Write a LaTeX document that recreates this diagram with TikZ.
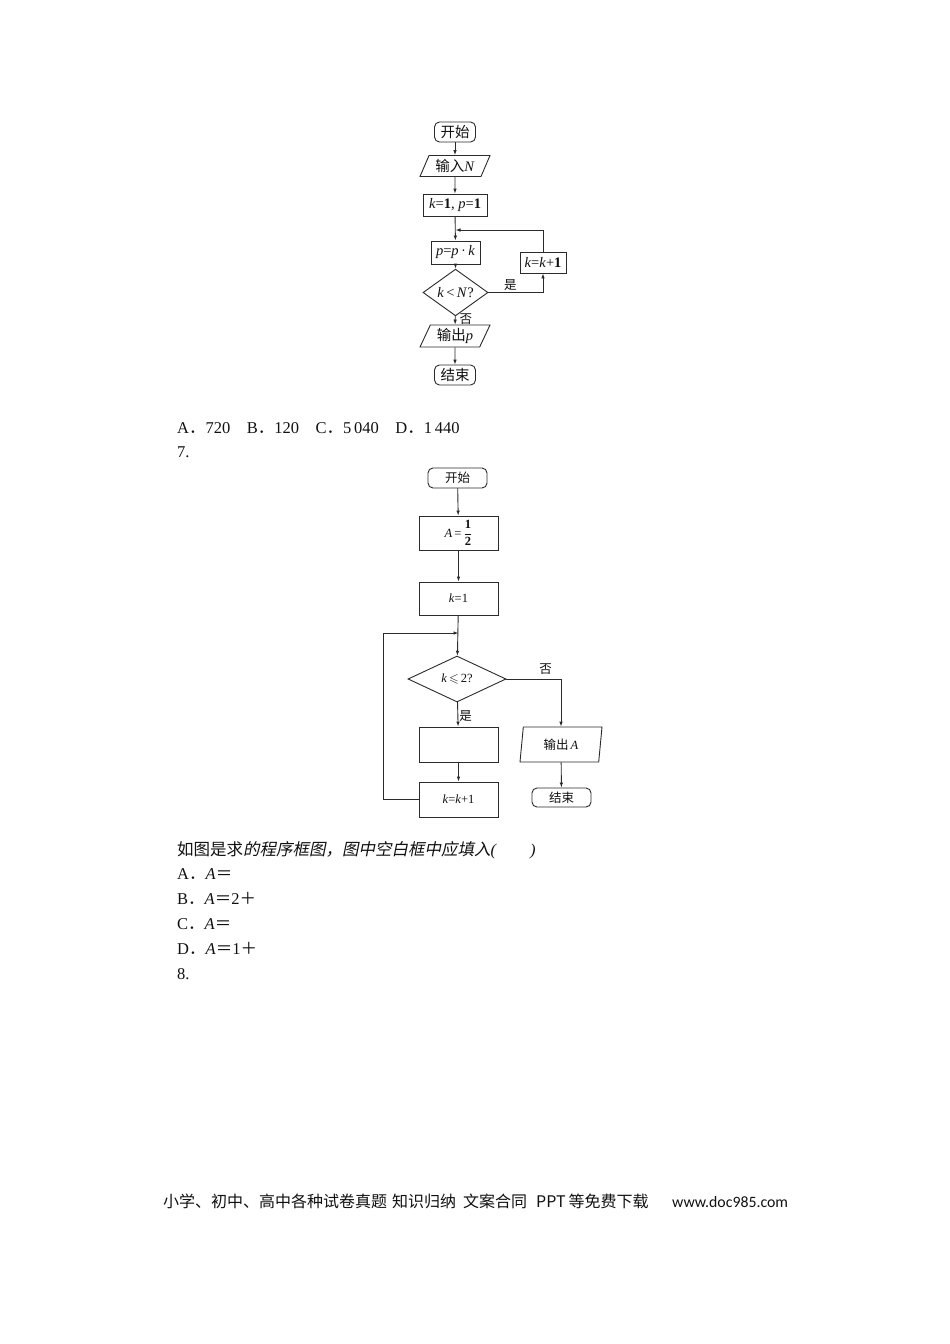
\documentclass[tikz,border=0pt]{standalone}
\usepackage{fontspec}
\usepackage{amssymb}
\setmainfont{Liberation Serif}
\newfontfamily\cjk{Noto Sans CJK SC}
\newfontfamily\cjkit[FakeSlant=0.2]{Noto Sans CJK SC}
\newfontfamily\webfont{Carlito}
\usetikzlibrary{arrows.meta, positioning, shapes.geometric}
\definecolor{trait}{HTML}{2B2B2B}
\definecolor{encre}{HTML}{111111}
\tikzset{
  debut/.style={rectangle, rounded corners=5pt, draw=trait, line width=0.9pt,
    text=encre, inner sep=0pt, align=center},
  boite/.style={rectangle, draw=trait, line width=0.9pt, text=encre,
    inner sep=0pt, align=center},
  entree/.style={trapezium, trapezium stretches body=true, draw=trait,
    line width=0.9pt, text=encre, inner sep=0pt, align=center},
  test/.style={diamond, draw=trait, line width=0.9pt, text=encre,
    inner sep=0pt, align=center},
  fleche/.style={-{Latex[length=5pt,width=3.6pt]}, line width=0.9pt, draw=trait},
  etiquette/.style={text=encre, inner sep=1pt, font=\cjk\fontsize{12.5}{14}\selectfont},
  texte/.style={anchor=base west, inner sep=0pt, text=encre,
    font=\fontsize{16.5}{20}\selectfont}
}

\begin{document}
\begin{tikzpicture}[x=1pt, y=-1pt]
  \useasboundingbox[fill=white] (0,0) rectangle (950,1344);

  % premier organigramme
  \begin{scope}[font=\fontsize{14.5}{16}\selectfont]
    \node[debut, minimum width=41pt, minimum height=20pt] (debut1) at (455,132) {\cjk 开始};
    \node[entree, trapezium left angle=56, trapezium right angle=124,
          minimum width=70pt, minimum height=21pt] (lire1) at (455,166) {{\cjk 输入}\textit{N}};
    \node[boite, minimum width=64pt, minimum height=22pt] (init1) at (455,205) {\textit{k}=\textbf{1}, \textit{p}=\textbf{1}};
    \node[boite, minimum width=49pt, minimum height=23pt] (prod1) at (455.5,252.5) {\textit{p}=\textit{p}\,·\,\textit{k}};
    \node[boite, minimum width=46pt, minimum height=21pt] (incr1) at (543,262.5) {\textit{k}=\textit{k}+\textbf{1}};
    \node[test, minimum width=65pt, minimum height=33pt] (test1) at (455.5,292.5) {\textit{k}\,<\,\textit{N}?};
    \node[entree, trapezium left angle=56, trapezium right angle=124,
          minimum width=70pt, minimum height=22pt] (ecrit1) at (455,336) {{\cjk 输出}\textit{p}};
    \node[debut, minimum width=41pt, minimum height=20pt] (fin1) at (455,375) {\cjk 结束};
    \coordinate (retour1) at (455.5,230);

    \draw[fleche] (debut1) -- (lire1);
    \draw[fleche] (lire1) -- (init1);
    \draw[fleche] (init1) -- (prod1);
    \draw[fleche] (prod1) -- (test1);
    \draw[fleche] (test1.east) -| node[etiquette, pos=0.2, above=1pt]{是} (incr1.south);
    \draw[fleche] (incr1.north) |- (retour1);
    \draw[fleche] (test1) -- node[etiquette, right=3pt, pos=0.4]{否} (ecrit1);
    \draw[fleche] (ecrit1) -- (fin1);
  \end{scope}

  \node[texte] (choix6) at (177,433.5) {A{\cjk．}720{\cjk　}B{\cjk．}120{\cjk　}C{\cjk．}5\,040{\cjk　}D{\cjk．}1\,440};
  \node[texte] (num7) at (177,457.5) {7.};

  % second organigramme
  \begin{scope}[font=\fontsize{12.5}{14}\selectfont]
    \node[debut, minimum width=59pt, minimum height=20pt] (debut2) at (457.5,478) {\cjk 开始};
    \node[boite, minimum width=79pt, minimum height=34pt] (init2) at (458.5,533) {\textit{A}\,=\,$\displaystyle\frac{\mbox{\textbf{1}}}{\mbox{\textbf{2}}}$};
    \node[boite, minimum width=79pt, minimum height=33pt] (compte2) at (458.5,598.5) {\textit{k}=1};
    \node[test, minimum width=98pt, minimum height=46pt] (test2) at (457,679) {\textit{k}\,$\leqslant$\,2?};
    \node[boite, minimum width=79pt, minimum height=35pt] (vide2) at (458.5,744.5) {};
    \node[boite, minimum width=79pt, minimum height=35pt] (incr2) at (458.5,799.5) {\textit{k}=\textit{k}+1};
    \node[entree, trapezium left angle=74, trapezium right angle=106,
          minimum width=82pt, minimum height=35pt] (ecrit2) at (561,744.5) {{\cjk 输出}\,\textit{A}};
    \node[debut, minimum width=59pt, minimum height=19pt] (fin2) at (561.5,797.5) {\cjk 结束};
    \coordinate (retour2) at (458.5,633);
    \coordinate (coin2) at (383,799.5);

    \draw[fleche] (debut2) -- (init2);
    \draw[fleche] (init2) -- (compte2);
    \draw[fleche] (compte2) -- (test2);
    \draw[fleche] (test2) -- node[etiquette, right, pos=0.55]{是} (vide2);
    \draw[fleche] (vide2) -- (incr2);
    \draw[fleche] (incr2.west) -- (coin2) |- (retour2);
    \draw[fleche] (test2.east) -| node[etiquette, pos=0.36, above=3pt]{否} (ecrit2.north);
    \draw[fleche] (ecrit2) -- (fin2);
  \end{scope}

  \node[texte] (enonce) at (177,855) {{\cjk 如图是求}{\cjkit 的程序框图，图中空白框中应填入}\textit{(}{\cjk　　}\textit{)}};
  \node[texte] (repA) at (177,879) {A{\cjk．}\textit{A}{\cjk＝}};
  \node[texte] (repB) at (177,904.5) {B{\cjk．}\textit{A}{\cjk＝}2{\cjk＋}};
  \node[texte] (repC) at (177,929.5) {C{\cjk．}\textit{A}{\cjk＝}};
  \node[texte] (repD) at (177,954.5) {D{\cjk．}\textit{A}{\cjk＝}1{\cjk＋}};
  \node[texte] (num8) at (177,979.5) {8.};

  % pied de page
  \node[texte, font=\cjk\fontsize{16}{20}\selectfont] (pied) at (163,1207)
    {小学、初中、高中各种试卷真题\hspace{5pt}知识归纳\hspace{7pt}文案合同\hspace{9pt}PPT\hspace{3pt}等免费下载};
  \node[texte, font=\webfont\fontsize{15.8}{20}\selectfont] (site) at (672,1207) {www.doc985.com};
\end{tikzpicture}
\end{document}
